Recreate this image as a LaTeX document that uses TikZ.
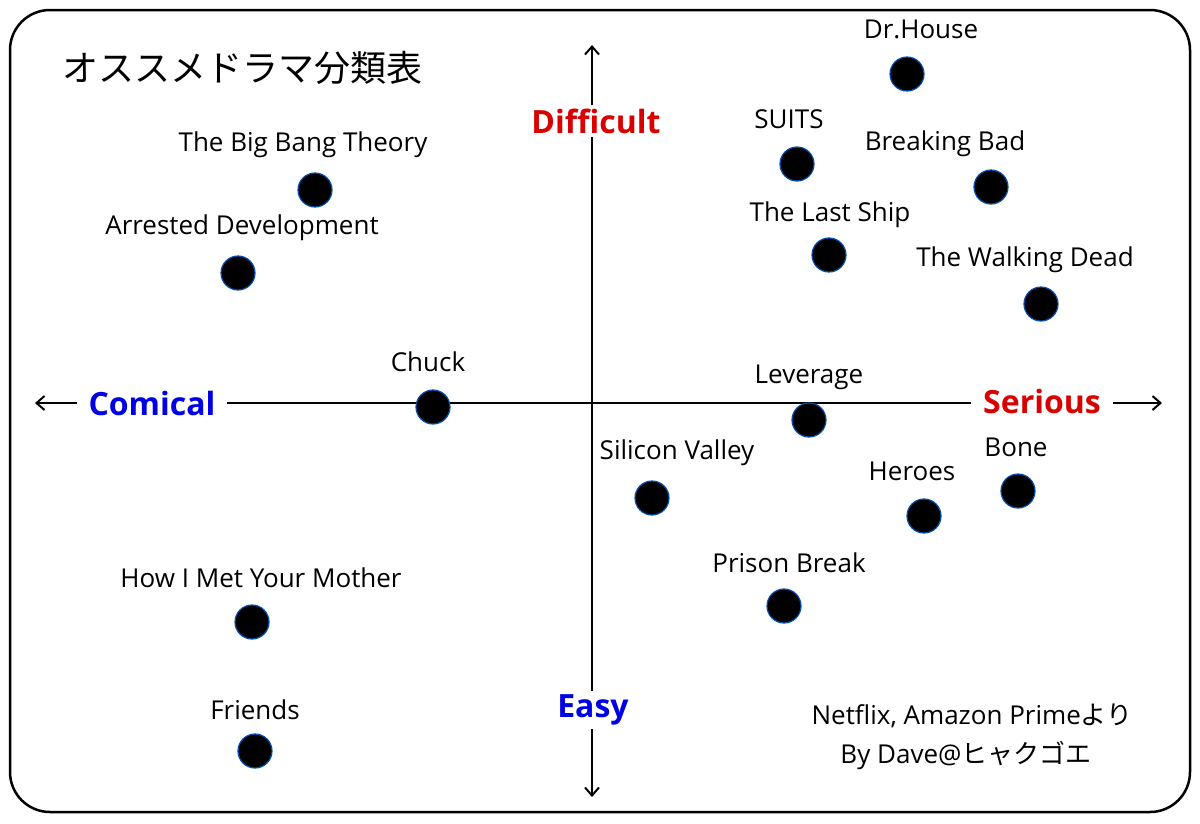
\documentclass[tikz,border=0pt]{standalone}
\usepackage{fontspec}
\setmainfont{Open Sans}
\newfontfamily\cjk{Noto Sans CJK JP}
\usetikzlibrary{arrows.meta}
\begin{document}
\begin{tikzpicture}[x=1pt,y=-1pt,
  dot/.style={circle,fill=black,draw=blue!55!cyan!70!black,line width=1.2pt,minimum size=34pt,inner sep=0pt},
  lab/.style={font=\fontsize{26}{28}\selectfont,inner sep=0pt},
  axl/.style={font=\fontsize{32}{35}\selectfont\bfseries,inner xsep=12pt,inner ysep=4pt,fill=white},
  ax/.style={line width=2pt,-{Straight Barb[length=8pt,width=14pt,line width=2pt]}}]
\useasboundingbox (0,0) rectangle (1200,823);
\draw[line width=2.5pt,rounded corners=40pt] (10,10) rectangle (1190,812);
\coordinate (L) at (35,403); \coordinate (R) at (1162,403);
\coordinate (T) at (592,45); \coordinate (B) at (592,797);
\coordinate (O) at (592,403);
\draw[ax] (O) -- (L); \draw[ax] (O) -- (R);
\draw[ax] (O) -- (T); \draw[ax] (O) -- (B);
\node[axl,text=blue!90!black] (com) at (152,403) {Comical};
\node[axl,text=red!85!black] (ser) at (1042,401) {Serious};
\node[axl,text=red!85!black] (dif) at (596,121) {Difficult};
\node[axl,text=blue!90!black] (eas) at (593,710) {Easy};
\node[font=\cjk\fontsize{36}{38}\selectfont,anchor=west,inner sep=0pt] (title) at (62,68) {オススメドラマ分類表};
\foreach \n/\dx/\dy/\lx/\ly/\t in {
 dh/907/74/921/29/Dr.House,
 su/797/164/789/119/SUITS,
 bb/991/187/945/144/Breaking Bad,
 ls/829/255/830/215/The Last Ship,
 wd/1041/304/1025/260/The Walking Dead,
 bbt/315/190/303/145/The Big Bang Theory,
 ad/238/273/242/228/Arrested Development,
 ch/433/407/428/362/Chuck,
 lv/809/420/809/377/Leverage,
 sv/652/498/677/453/Silicon Valley,
 he/924/516/912/471/Heroes,
 bo/1018/491/1016/447/Bone,
 pb/784/606/789/563/Prison Break,
 hi/252/622/261/578/How I Met Your Mother,
 fr/255/751/255/710/Friends}{
 \node[dot] (\n) at (\dx,\dy) {};
 \node[lab] (\n l) at (\lx,\ly) {\t};
}
\node[lab] (f1) at (972,716) {Netflix, Amazon Prime{\cjk より}};
\node[lab] (f2) at (966,756) {By Dave@{\cjk ヒャクゴエ}};
\end{tikzpicture}
\end{document}
